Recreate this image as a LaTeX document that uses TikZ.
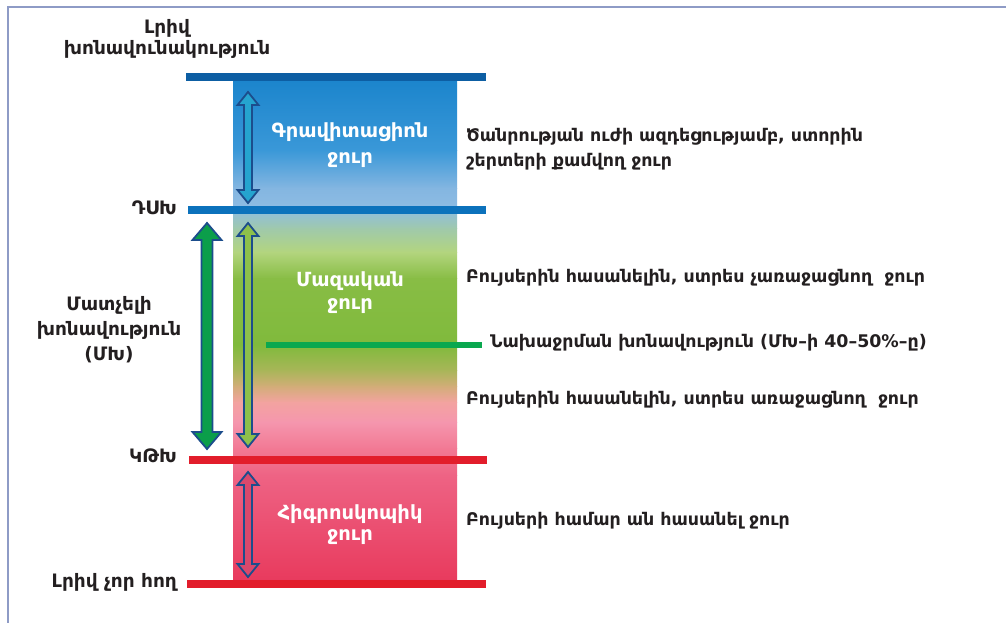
\documentclass[tikz,border=0pt]{standalone}
\usepackage{fontspec}
\setmainfont{DejaVu Sans}
\definecolor{framecol}{HTML}{8E9BC6}
\definecolor{txt}{HTML}{231F20}
\definecolor{topblue}{HTML}{0D5EA3}
\definecolor{midblue}{HTML}{0C72BC}
\definecolor{lvlred}{HTML}{E21D2B}
\definecolor{lvlgreen}{HTML}{0AA84F}
\definecolor{arrline}{HTML}{1C4D8C}
\definecolor{gravfill}{HTML}{25A4CF}
\definecolor{biggreen}{HTML}{0B9E4A}
\definecolor{thingreen}{HTML}{8DC04B}
\definecolor{hygrofill}{HTML}{D9486C}
\tikzset{
  lbl/.style={text=txt, font=\fontsize{17.4}{20}\selectfont\bfseries, inner sep=0pt},
  llbl/.style={text=txt, font=\fontsize{18.5}{21}\selectfont\bfseries, inner sep=0pt},
  wlbl/.style={text=white, font=\fontsize{19.5}{22}\selectfont\bfseries, inner sep=0pt, anchor=mid},
  level/.style={line width=8pt},
  arrowline/.style={draw=arrline, line width=1.8pt, line join=miter},
}
\newcommand\dblarr[7]{%
  \filldraw[arrowline, fill=#7]
    ({#1-#4},{#2+#6}) -- ({#1-#5},{#2+#6}) -- (#1,#2) -- ({#1+#5},{#2+#6}) -- ({#1+#4},{#2+#6})
    -- ({#1+#4},{#3-#6}) -- ({#1+#5},{#3-#6}) -- (#1,#3) -- ({#1-#5},{#3-#6}) -- ({#1-#4},{#3-#6}) -- cycle;}
\begin{document}
\begin{tikzpicture}[x=1pt,y=-1pt]
\useasboundingbox (0,0) rectangle (1006,623);
\fill[white] (0,0) rectangle (1006,623);
% frame
\draw[framecol, line width=1.5pt] (8,623) -- (8,7) -- (1006,7);
% column gradient
\foreach \ya/\yb/\ca/\cb in {
  77/150/1A84CC/3A98D8,
  150/188/3A98D8/84B6E1,
  188/208/84B6E1/8EBCE3,
  208/228/8EBCE3/9FC9AC,
  228/252/9FC9AC/B3D57E,
  252/278/B3D57E/88BD45,
  278/345/88BD45/80BA3C,
  345/370/80BA3C/A8B658,
  370/386/A8B658/D2AD78,
  386/402/D2AD78/F3A3A0,
  402/422/F3A3A0/F596AE,
  422/448/F596AE/F27994,
  448/475/F27994/EE6384,
  475/584/EE6384/E8395C}
{
  \definecolor{ca}{HTML}{\ca}\definecolor{cb}{HTML}{\cb}
  \shade[top color=ca, bottom color=cb] (233,\ya) rectangle (457,\yb+0.7);
}
% level lines
\draw[level, topblue] (186,77) -- (486,77);
\draw[level, midblue] (188,210) -- (486,210);
\draw[level, lvlred] (189,460) -- (487,460);
\draw[level, lvlred] (187,584) -- (486,584);
\draw[line width=6pt, lvlgreen] (266,345) -- (482,345);
% arrows
\dblarr{248}{92}{203}{4}{10.5}{13}{gravfill}
\dblarr{207}{223}{449}{5.5}{14.5}{17}{biggreen}
\dblarr{248}{223}{447}{4}{10.5}{13}{thingreen}
\dblarr{248}{472}{577}{4}{10.5}{13}{hygrofill}
% top label
\node[llbl, anchor=mid] (t1) at (167,31) {Լրիվ};
\node[llbl, anchor=mid] (t2) at (167,51.5) {խոնավունակություն};
% column labels
\node[wlbl] (g1) at (350,135) {Գրավիտացիոն};
\node[wlbl] (g2) at (350,161) {ջուր};
\node[wlbl] (m1) at (350,284) {Մազական};
\node[wlbl] (m2) at (350,307) {ջուր};
\node[wlbl] (h1) at (350,517) {Հիգրոսկոպիկ};
\node[wlbl] (h2) at (350,538) {ջուր};
% left labels
\node[llbl, anchor=mid east] (dsx) at (177,212) {ԴՍԽ};
\node[llbl, anchor=mid] (a1) at (109,308) {Մատչելի};
\node[llbl, anchor=mid] (a2) at (109,333) {խոնավություն};
\node[llbl, anchor=mid] (a3) at (109,358) {(ՄԽ)};
\node[llbl, anchor=mid east] (ktx) at (177,460) {ԿԹԽ};
\node[llbl, anchor=mid east] (dry) at (177,585) {Լրիվ չոր հող};
% right labels
\node[lbl, anchor=mid west] (r1) at (466,139) {Ծանրության ուժի ազդեցությամբ, ստորին};
\node[lbl, anchor=mid west] (r2) at (466,164) {շերտերի քամվող ջուր};
\node[lbl, anchor=mid west] (r3) at (466,280) {Բույսերին հասանելին, ստրես չառաջացնող\ \ ջուր};
\node[lbl, anchor=mid west] (r4) at (490,345) {Նախաջրման խոնավություն (ՄԽ–ի 40–50\%–ը)};
\node[lbl, anchor=mid west] (r5) at (466,402) {Բույսերին հասանելին, ստրես առաջացնող\ \ ջուր};
\node[lbl, anchor=mid west] (r6) at (466,523) {Բույսերի համար ան հասանել ջուր};
\end{tikzpicture}
\end{document}
